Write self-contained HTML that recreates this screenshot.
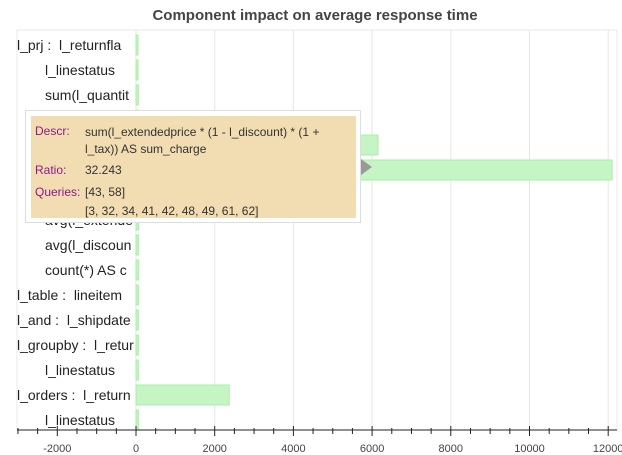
<!DOCTYPE html>
<html><head><meta charset="utf-8"><style>
body{margin:0;background:#fff;font-family:"Liberation Sans",sans-serif}
#wrap{position:relative;width:622px;height:455px;overflow:hidden}
.lab{position:absolute;font-size:14px;color:#222;white-space:nowrap;overflow:hidden;line-height:16px}
#tip{position:absolute;left:25px;top:110px;width:334px;height:111px;border:1px solid #ddd;background:#fff}
#tipin{position:absolute;left:5px;top:5px;width:325px;height:102px;background:#f2dcb2;font-size:12px;color:#333}
.tk{position:absolute;left:4px;color:#8b1a8b}.tv{position:absolute;left:54px}
</style></head><body>
<div id="wrap">
<svg id="svg" width="622" height="455" style="position:absolute;left:0;top:0">
<text x="315" y="20" text-anchor="middle" font-size="15" font-weight="bold" fill="#444" font-family="Liberation Sans">Component impact on average response time</text>
<rect x="17" y="30" width="600" height="400" fill="none" stroke="#e8e8e8"/>
<g id="grid"></g><g id="bars"></g><g id="axis"></g>
</svg>
<div id="labels"></div>
<div id="tip"><div id="tipin">
<span class="tk" style="top:8px">Descr:</span><span class="tv" style="top:8px;width:270px;line-height:17px">sum(l_extendedprice * (1 - l_discount) * (1 + l_tax)) AS sum_charge</span>
<span class="tk" style="top:47px">Ratio:</span><span class="tv" style="top:47px">32.243</span>
<span class="tk" style="top:69px">Queries:</span><span class="tv" style="top:69px">[43, 58]</span>
<span class="tv" style="top:88px">[3, 32, 34, 41, 42, 48, 49, 61, 62]</span>
</div></div>
<svg width="12" height="16" style="position:absolute;left:361px;top:159px"><polygon points="0,0 11,8 0,16" fill="#999"/></svg>
</div>
<script>
const prefixes=["l_prj :","","","","","","","","","","l_table :","l_and :","l_groupby :","","l_orders :",""];
const names=["l_returnfla","l_linestatus","sum(l_quantit","sum(l_extende","sum(l_extende","sum(l_extende","avg(l_quantit","avg(l_extende","avg(l_discoun","count(*) AS c","lineitem","l_shipdate","l_retur","l_linestatus","l_return","l_linestatus"];
const values=[40,50,60,70,6150,12100,60,70,60,70,60,60,60,60,2370,60];
const ticks=[-2000,0,2000,4000,6000,8000,10000,12000];
const NS="http://www.w3.org/2000/svg";
const x=v=>136+v*0.03935, y=i=>45+i*25;
const mk=(t,a,p)=>{const e=document.createElementNS(NS,t);for(const k in a)e.setAttribute(k,a[k]);p.appendChild(e);return e;};
const g=document.getElementById('grid'),b=document.getElementById('bars'),ax=document.getElementById('axis');
ticks.forEach(t=>{if(t!==-2000){const l=mk('line',{x1:x(t),x2:x(t),y1:30,y2:430,stroke:'#e6e6e6'},g);

}});
mk('line',{x1:17,x2:617,y1:430,y2:430,stroke:'#222'},ax);
for(let v=-3000;v<=12000;v+=500){const m=v%2000===0;mk('line',{x1:x(v),x2:x(v),y1:m?426:428,y2:m?436:434,stroke:'#222'},ax);}
ticks.forEach(t=>{const e=mk('text',{x:x(t),y:452,'text-anchor':'middle','font-size':11,fill:'#444','font-family':'Liberation Sans'},ax);e.textContent=t;

});
const L=document.getElementById('labels');
values.forEach((v,i)=>{const r=mk('rect',{x:x(0),y:y(i)-10,width:Math.max(2,x(v)-x(0)),height:20,fill:'#c5f5c5',stroke:'#a8eea8'},b);


const d=document.createElement('div');d.className='lab';


if(prefixes[i]){d.style.left='17px';d.style.width='118px';d.textContent=prefixes[i]+'\u00a0 '+names[i];}
else{d.style.left='45px';d.style.width='90px';d.textContent=names[i];}
d.style.top=(y(i)-8)+'px';L.appendChild(d);});
</script>
</body></html>
